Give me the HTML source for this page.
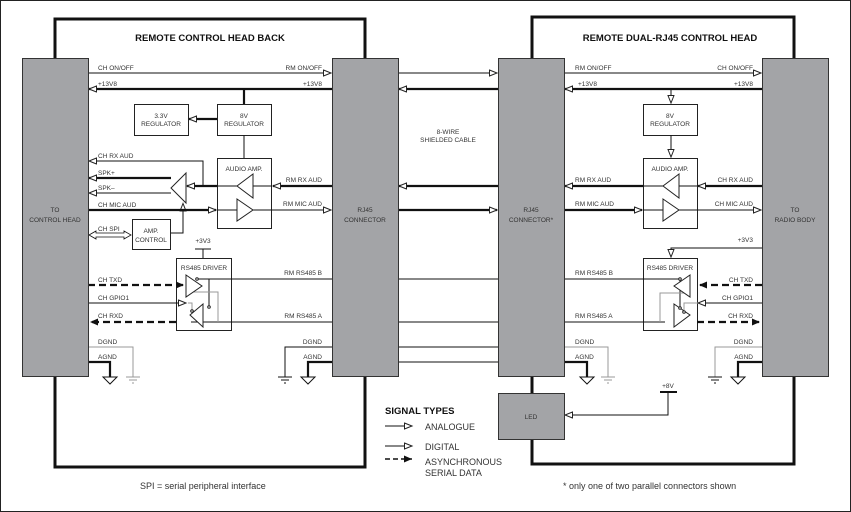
<!DOCTYPE html>
<html><head><meta charset="utf-8"><style>
html,body{margin:0;padding:0;background:#fff}
svg{display:block}
text{font-family:"Liberation Sans",sans-serif;font-size:6.5px;fill:#333}
.t{font-size:9.5px;font-weight:bold;fill:#111}
.g{fill:#a3a4a7;stroke:#333;stroke-width:1}
.b{fill:#fff;stroke:#222;stroke-width:1}
</style></head><body>
<svg width="851" height="512" viewBox="0 0 851 512" xmlns="http://www.w3.org/2000/svg">
<defs>
<marker id="o" markerUnits="userSpaceOnUse" markerWidth="10" markerHeight="8" refX="8" refY="3.5" orient="auto"><path d="M0.5,0.5 L8,3.5 L0.5,6.5 z" fill="#fff" stroke="#222" stroke-width="1"/></marker>
<marker id="f" markerUnits="userSpaceOnUse" markerWidth="10" markerHeight="8" refX="8" refY="3.5" orient="auto"><path d="M0,0 L8,3.5 L0,7 z" fill="#111"/></marker>
</defs>
<rect x="0.5" y="0.5" width="850" height="511" fill="#fff" stroke="#222"/>
<!-- enclosure boxes -->
<g fill="none" stroke="#111" stroke-width="3">
<polyline points="55,58 55,19 365,19 365,58"/>
<polyline points="55,377 55,467 365,467 365,377"/>
<polyline points="532,58 532,17 794,17 794,58"/>
<polyline points="532,377 532,393"/>
<polyline points="532,439 532,464 794,464 794,377"/>
</g>
<text class="t" x="210" y="41" text-anchor="middle">REMOTE CONTROL HEAD BACK</text>
<text class="t" x="670" y="41" text-anchor="middle">REMOTE DUAL-RJ45 CONTROL HEAD</text>

<!-- boxes -->
<rect class="b" x="134.5" y="104.5" width="54" height="31"/>
<rect class="b" x="217.5" y="104.5" width="54" height="31"/>
<rect class="b" x="217.5" y="158.5" width="54" height="70"/>
<rect class="b" x="132.5" y="219.5" width="38" height="30"/>
<rect class="b" x="176.5" y="258.5" width="55" height="72"/>
<rect class="b" x="643.5" y="104.5" width="54" height="31"/>
<rect class="b" x="643.5" y="158.5" width="54" height="70"/>
<rect class="b" x="643.5" y="258.5" width="54" height="72"/>
<text x="161" y="118" text-anchor="middle">3.3V</text><text x="161" y="126" text-anchor="middle">REGULATOR</text>
<text x="244" y="118" text-anchor="middle">8V</text><text x="244" y="126" text-anchor="middle">REGULATOR</text>
<text x="670" y="118" text-anchor="middle">8V</text><text x="670" y="126" text-anchor="middle">REGULATOR</text>
<text x="244" y="171" text-anchor="middle">AUDIO AMP.</text>
<text x="670" y="171" text-anchor="middle">AUDIO AMP.</text>
<text x="151" y="233" text-anchor="middle">AMP.</text><text x="151" y="242" text-anchor="middle">CONTROL</text>
<text x="204" y="270" text-anchor="middle">RS485 DRIVER</text>
<text x="670" y="270" text-anchor="middle">RS485 DRIVER</text>

<!-- wires thin -->
<g stroke="#111" stroke-width="1" fill="none">
<line x1="88" y1="73" x2="331" y2="73" marker-end="url(#o)"/>
<line x1="398" y1="73" x2="497" y2="73" marker-end="url(#o)"/>
<line x1="564" y1="73" x2="761" y2="73" marker-end="url(#o)"/>
<line x1="244" y1="135" x2="244" y2="158"/>
<polyline points="203,186 203,161 89,161" marker-end="url(#o)"/>
<line x1="171" y1="193" x2="89" y2="193" marker-end="url(#o)"/>
<polyline points="171,233 183,233 183,203.5" marker-end="url(#o)"/>
<line x1="272" y1="210" x2="331" y2="210" marker-end="url(#o)"/>
<line x1="697" y1="210" x2="761" y2="210" marker-end="url(#o)"/>
<line x1="217" y1="210" x2="272" y2="210"/>
<line x1="643" y1="210" x2="697" y2="210"/>
<line x1="217" y1="186" x2="272" y2="186"/>
<line x1="643" y1="186" x2="697" y2="186"/>
<line x1="203" y1="249" x2="203" y2="258"/><line x1="195" y1="249" x2="211" y2="249"/>
<line x1="88" y1="303" x2="186" y2="303" marker-end="url(#o)"/>
<line x1="197" y1="279" x2="332" y2="279"/>
<line x1="398" y1="279" x2="498" y2="279"/>
<line x1="564" y1="279" x2="680" y2="279"/>
<line x1="191" y1="322" x2="332" y2="322"/>
<line x1="398" y1="322" x2="498" y2="322"/>
<line x1="564" y1="322" x2="665" y2="322"/>
<line x1="398" y1="347" x2="498" y2="347"/>
<line x1="398" y1="362" x2="498" y2="362"/>
<line x1="209" y1="279" x2="209" y2="307"/>
<line x1="680" y1="279" x2="680" y2="308"/>
<polyline points="762,248 671,248 671,257" marker-end="url(#o)"/>
<line x1="762" y1="303" x2="698" y2="303" marker-end="url(#o)"/>
<line x1="671" y1="135" x2="671" y2="157" marker-end="url(#o)"/>
<line x1="671" y1="89" x2="671" y2="103" marker-end="url(#o)"/>
<polyline points="332,347 285,347 285,377"/>
<polyline points="564,347 608,347 608,377" stroke="#999"/>
<polyline points="762,347 715,347 715,377" stroke="#999"/>
<polyline points="88,347 133,347 133,377" stroke="#999"/>
<line x1="660" y1="392" x2="677" y2="392" stroke-width="2"/>
<polyline points="668,392 668,415 565,415" marker-end="url(#o)"/>
</g>
<g stroke="#999" stroke-width="1" fill="none">
<polyline points="190,292 218,292 218,322"/>
<polyline points="188,303 192,303 192,311"/>
<polyline points="690,293 660,293 660,322"/>
<polyline points="698,303 684,303 684,310"/>
</g>
<!-- thick wires -->
<g stroke="#111" stroke-width="2.2" fill="none">
<line x1="332" y1="89" x2="89" y2="89" marker-end="url(#o)"/>
<line x1="498" y1="89" x2="399" y2="89" marker-end="url(#o)"/>
<line x1="762" y1="89" x2="565" y2="89" marker-end="url(#o)"/>
<line x1="244" y1="89" x2="244" y2="104"/>
<line x1="217" y1="119" x2="189" y2="119" marker-end="url(#o)"/>
<line x1="332" y1="186" x2="273" y2="186" marker-end="url(#o)"/>
<line x1="498" y1="186" x2="399" y2="186" marker-end="url(#o)"/>
<line x1="643" y1="186" x2="565" y2="186" marker-end="url(#o)"/>
<line x1="762" y1="186" x2="698" y2="186" marker-end="url(#o)"/>
<line x1="217" y1="186" x2="187" y2="186" marker-end="url(#o)"/>
<line x1="171" y1="178" x2="89" y2="178" marker-end="url(#o)"/>
<line x1="88" y1="210" x2="216" y2="210" marker-end="url(#o)"/>
<line x1="398" y1="210" x2="497" y2="210" marker-end="url(#o)"/>
<line x1="564" y1="210" x2="642" y2="210" marker-end="url(#o)"/>
<polyline points="88,362 110,362 110,377"/>
<polyline points="332,362 308,362 308,377"/>
<polyline points="564,362 587,362 587,377"/>
<polyline points="762,362 738,362 738,377"/>
<g stroke-dasharray="7,4">
<line x1="88" y1="285" x2="184" y2="285" marker-end="url(#f)"/>
<line x1="176" y1="322" x2="90" y2="322" marker-end="url(#f)"/>
<line x1="762" y1="285" x2="699" y2="285" marker-end="url(#f)"/>
<line x1="697" y1="322" x2="760" y2="322" marker-end="url(#f)"/>
</g>
</g>
<g stroke="#111" stroke-width="0.8" fill="#fff">
<path d="M89,235 L96,231 L96,233 L124,233 L124,231 L131,235 L124,239 L124,237 L96,237 L96,239 Z"/>
</g>
<!-- ground symbols -->
<g stroke="#111" stroke-width="1" fill="#fff">
<path d="M103,377 L117,377 L110,384 Z"/><path d="M301,377 L315,377 L308,384 Z"/>
<path d="M580,377 L594,377 L587,384 Z"/><path d="M731,377 L745,377 L738,384 Z"/>
<line x1="278" y1="377" x2="292" y2="377"/><line x1="281" y1="380" x2="289" y2="380"/><line x1="284" y1="383" x2="286" y2="383"/>
<line x1="708" y1="377" x2="722" y2="377"/><line x1="711" y1="380" x2="719" y2="380"/><line x1="714" y1="383" x2="716" y2="383"/>
</g>
<g stroke="#999" stroke-width="1">
<line x1="126" y1="377" x2="140" y2="377"/><line x1="129" y1="380" x2="137" y2="380"/><line x1="132" y1="383" x2="134" y2="383"/>
<line x1="601" y1="377" x2="615" y2="377"/><line x1="604" y1="380" x2="612" y2="380"/><line x1="607" y1="383" x2="609" y2="383"/>
</g>
<!-- gray blocks -->
<rect class="g" x="22.5" y="58.5" width="66" height="318"/>
<rect class="g" x="332.5" y="58.5" width="66" height="318"/>
<rect class="g" x="498.5" y="58.5" width="66" height="318"/>
<rect class="g" x="762.5" y="58.5" width="66" height="318"/>
<rect class="g" x="498.5" y="393.5" width="66" height="46"/>
<text x="55" y="212" text-anchor="middle">TO</text><text x="55" y="222" text-anchor="middle">CONTROL HEAD</text>
<text x="365" y="212" text-anchor="middle">RJ45</text><text x="365" y="222" text-anchor="middle">CONNECTOR</text>
<text x="531" y="212" text-anchor="middle">RJ45</text><text x="531" y="222" text-anchor="middle">CONNECTOR*</text>
<text x="795" y="212" text-anchor="middle">TO</text><text x="795" y="222" text-anchor="middle">RADIO BODY</text>
<text x="531" y="419" text-anchor="middle">LED</text>
<!-- triangles -->
<g stroke="#222" stroke-width="1" fill="#fff">
<path d="M253,174 L237,186 L253,198 Z"/><path d="M237,199 L253,210 L237,221 Z"/>
<path d="M679,174 L663,186 L679,198 Z"/><path d="M663,199 L679,210 L663,221 Z"/>
<path d="M186,173 L171,188 L186,203 Z"/>
<path d="M186,275 L202,286 L186,297 Z"/><path d="M203,304 L190,315 L203,327 Z"/>
<path d="M690,275 L674,286 L690,297 Z"/><path d="M674,304 L690,315 L674,327 Z"/>
<circle cx="197" cy="279" r="1.3"/><circle cx="209" cy="307" r="1.3"/><circle cx="192" cy="311" r="1.3"/>
<circle cx="680" cy="279" r="1.3"/><circle cx="680" cy="308" r="1.3"/><circle cx="684" cy="312" r="1.3"/>
</g>
<!-- labels -->
<text x="98" y="70">CH ON/OFF</text><text x="322" y="70" text-anchor="end">RM ON/OFF</text>
<text x="98" y="86">+13V8</text><text x="322" y="86" text-anchor="end">+13V8</text>
<text x="98" y="158">CH RX AUD</text>
<text x="98" y="175">SPK+</text><text x="98" y="190">SPK–</text>
<text x="98" y="207">CH MIC AUD</text>
<text x="322" y="182" text-anchor="end">RM RX AUD</text><text x="322" y="206" text-anchor="end">RM MIC AUD</text>
<text x="98" y="231">CH SPI</text>
<text x="203" y="243" text-anchor="middle">+3V3</text>
<text x="98" y="282">CH TXD</text><text x="98" y="300">CH GPIO1</text><text x="98" y="318">CH RXD</text>
<text x="322" y="275" text-anchor="end">RM RS485 B</text><text x="322" y="318" text-anchor="end">RM RS485 A</text>
<text x="98" y="344">DGND</text><text x="98" y="359">AGND</text>
<text x="322" y="344" text-anchor="end">DGND</text><text x="322" y="359" text-anchor="end">AGND</text>
<text x="448" y="134" text-anchor="middle">8-WIRE</text><text x="448" y="142" text-anchor="middle">SHIELDED CABLE</text>
<text x="575" y="70">RM ON/OFF</text><text x="753" y="70" text-anchor="end">CH ON/OFF</text>
<text x="578" y="86">+13V8</text><text x="753" y="86" text-anchor="end">+13V8</text>
<text x="575" y="182">RM RX AUD</text><text x="753" y="182" text-anchor="end">CH RX AUD</text>
<text x="575" y="206">RM MIC AUD</text><text x="753" y="206" text-anchor="end">CH MIC AUD</text>
<text x="753" y="242" text-anchor="end">+3V3</text>
<text x="575" y="275">RM RS485 B</text><text x="575" y="318">RM RS485 A</text>
<text x="753" y="282" text-anchor="end">CH TXD</text><text x="753" y="300" text-anchor="end">CH GPIO1</text><text x="753" y="318" text-anchor="end">CH RXD</text>
<text x="575" y="344">DGND</text><text x="575" y="359">AGND</text>
<text x="753" y="344" text-anchor="end">DGND</text><text x="753" y="359" text-anchor="end">AGND</text>
<text x="668" y="388" text-anchor="middle">+8V</text>
<!-- legend -->
<text x="385" y="414" style="font-size:9.5px;font-weight:bold;fill:#111">SIGNAL TYPES</text>
<g stroke="#111" stroke-width="1">
<line x1="385" y1="426" x2="412" y2="426" marker-end="url(#o)"/>
<line x1="385" y1="446" x2="412" y2="446" marker-end="url(#o)"/>
<line x1="385" y1="459" x2="412" y2="459" stroke-dasharray="5,3" stroke-width="1.5" marker-end="url(#f)"/>
</g>
<text x="425" y="430" style="font-size:9px">ANALOGUE</text>
<text x="425" y="450" style="font-size:9px">DIGITAL</text>
<text x="425" y="465" style="font-size:9px">ASYNCHRONOUS</text>
<text x="425" y="476" style="font-size:9px">SERIAL DATA</text>
<text x="140" y="489" style="font-size:9px">SPI = serial peripheral interface</text>
<text x="563" y="489" style="font-size:9px">* only one of two parallel connectors shown</text>
</svg>
</body></html>
